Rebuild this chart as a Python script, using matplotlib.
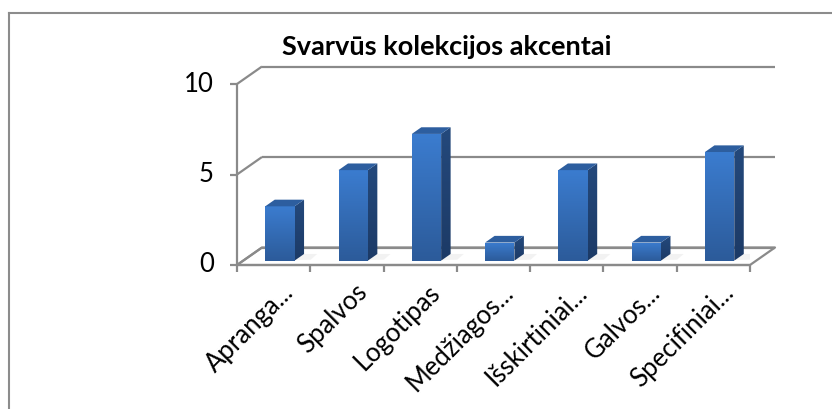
import numpy as np
import matplotlib.pyplot as plt
from matplotlib.patches import Polygon
from matplotlib.lines import Line2D
from matplotlib.colors import LinearSegmentedColormap

categories = ["Apranga...", "Spalvos", "Logotipas", "Medžiagos...",
              "Išskirtiniai...", "Galvos...", "Specifiniai..."]
values = [3, 5, 7, 1, 5, 1, 6]
y_ticks = [0, 5, 10]
title = "Svarvūs kolekcijos akcentai"

plt.rcParams['font.family'] = ['Lato', 'DejaVu Sans']

W, H = 832, 409
fig = plt.figure(figsize=(W / 100, H / 100), dpi=100)
# front plane of the 3d box, in pixels: x 237..750, y 265 (0) .. 84 (10)
ax = fig.add_axes([237 / W, (H - 265) / H, (750 - 237) / W, (265 - 84) / H])
n = len(categories)
ymax = y_ticks[-1]
px_x = (750 - 237) / n      # pixels per category
px_y = (265 - 84) / ymax    # pixels per unit
DX = 25 / px_x              # depth offset
DY = 17.5 / px_y

grid_c = '#8a8a8a'
lw = 1.6

def line(xs, ys, **kw):
    ax.add_line(Line2D(xs, ys, color=kw.get('c', grid_c), lw=kw.get('lw', lw),
                       clip_on=False, zorder=kw.get('z', 1), solid_capstyle='butt'))

# floor
line([0, n, n + DX, DX, 0], [0, 0, DY, DY, 0])
# back wall gridlines + left wall diagonals
for v in y_ticks:
    line([DX, n + DX], [v + DY, v + DY])
    line([0, DX], [v, v + DY])
# front vertical axis
line([0, 0], [0, ymax], z=5)
# ticks
for v in y_ticks:
    line([-7 / px_x, 0], [v, v], z=5)
    ax.text(-23 / px_x, v, str(v), ha='right', va='center', fontsize=18.5, color='black')
for k in range(n + 1):
    line([k, k], [0, -7 / px_y], z=5)
line([0, n], [0, 0], z=5)

# bars
bw = 0.40
f0, d = 0.25, 0.38
front_cm = LinearSegmentedColormap.from_list('front', ['#2c5b9a', '#3b7ccf'])
side_cm = LinearSegmentedColormap.from_list('side', ['#1c3a66', '#24497c'])
grad = np.linspace(0, 1, 100).reshape(-1, 1)
for i, v in enumerate(values):
    x0 = i + 0.5 - bw / 2 + f0 * DX
    y0 = f0 * DY
    ddx, ddy = d * DX, d * DY
    # soft shadow on the floor
    sh = Polygon([(x0 + bw * 0.2, y0), (x0 + bw + 0.22, y0 + 0.05),
                  (x0 + bw + ddx + 0.18, y0 + ddy), (x0 + ddx, y0 + ddy)],
                 closed=True, facecolor='#a0a0a0', alpha=0.13, edgecolor='none', zorder=2)
    ax.add_patch(sh)
    front = Polygon([(x0, y0), (x0 + bw, y0), (x0 + bw, y0 + v), (x0, y0 + v)],
                    closed=True, facecolor='none', edgecolor='none', zorder=3)
    ax.add_patch(front)
    im = ax.imshow(grad, extent=(x0, x0 + bw, y0, y0 + v), origin='lower',
                   cmap=front_cm, aspect='auto', zorder=3)
    im.set_clip_path(front)
    side = Polygon([(x0 + bw, y0), (x0 + bw, y0 + v), (x0 + bw + ddx, y0 + v + ddy),
                    (x0 + bw + ddx, y0 + ddy)], closed=True, facecolor='none',
                   edgecolor='none', zorder=3)
    ax.add_patch(side)
    im2 = ax.imshow(grad, extent=(x0 + bw, x0 + bw + ddx, y0, y0 + v + ddy), origin='lower',
                    cmap=side_cm, aspect='auto', zorder=3)
    im2.set_clip_path(side)
    top = Polygon([(x0, y0 + v), (x0 + bw, y0 + v), (x0 + bw + ddx, y0 + v + ddy),
                   (x0 + ddx, y0 + v + ddy)], closed=True, facecolor='#2d5e9f',
                  edgecolor='none', zorder=3)
    ax.add_patch(top)

# category labels
for i, lab in enumerate(categories):
    ax.text(i + 0.5 + 0.1, -0.8, lab, rotation=45, ha='right', va='top',
            rotation_mode='anchor', fontsize=18.5, color='black')

ax.set_xlim(0, n)
ax.set_ylim(0, ymax)
ax.axis('off')

fig.text(447 / W, 1 - 47 / H, title, ha='center', va='center', fontsize=19.5,
         fontweight='bold', color='black')

# chart area border (only top and left visible)
fig.add_artist(Line2D([9 / W, 1], [1 - 13 / H, 1 - 13 / H], color='#8c8c8c', lw=1.5))
fig.add_artist(Line2D([9 / W, 9 / W], [0, 1 - 13 / H], color='#8c8c8c', lw=1.5))

fig.savefig('out.png', dpi=100)
